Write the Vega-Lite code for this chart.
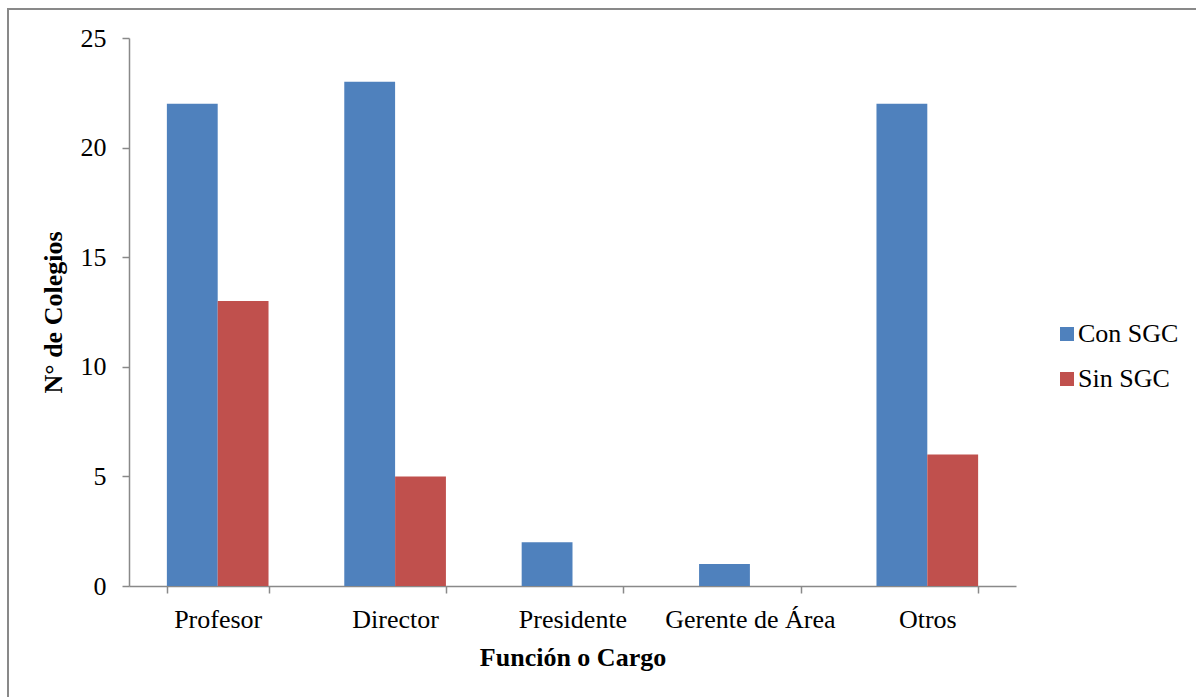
{
  "$schema": "https://vega.github.io/schema/vega-lite/v6.json",
  "width": 887,
  "height": 548,
  "autosize": {"type": "none"},
  "padding": {"left": 129, "top": 38, "right": 180, "bottom": 111},
  "background": "white",
  "config": {
    "view": {"stroke": null},
    "font": "Liberation Serif",
    "axis": {
      "domainColor": "#898989",
      "tickColor": "#898989",
      "domainWidth": 1.5,
      "tickWidth": 1.5,
      "tickSize": 7,
      "grid": false,
      "labelFont": "Liberation Serif",
      "labelFontSize": 26,
      "labelColor": "#000000",
      "titleFont": "Liberation Serif",
      "titleFontSize": 26,
      "titleFontWeight": "bold",
      "titleColor": "#000000"
    },
    "legend": {
      "labelFont": "Liberation Serif",
      "labelFontSize": 26,
      "labelColor": "#000000",
      "padding": 0
    }
  },
  "data": {
    "values": [
      {"cargo": "Profesor", "serie": "Con SGC", "n": 22},
      {"cargo": "Profesor", "serie": "Sin SGC", "n": 13},
      {"cargo": "Director", "serie": "Con SGC", "n": 23},
      {"cargo": "Director", "serie": "Sin SGC", "n": 5},
      {"cargo": "Presidente", "serie": "Con SGC", "n": 2},
      {"cargo": "Presidente", "serie": "Sin SGC", "n": 0},
      {"cargo": "Gerente de Área", "serie": "Con SGC", "n": 1},
      {"cargo": "Gerente de Área", "serie": "Sin SGC", "n": 0},
      {"cargo": "Otros", "serie": "Con SGC", "n": 22},
      {"cargo": "Otros", "serie": "Sin SGC", "n": 6}
    ]
  },
  "layer": [
    {
      "data": {"values": [{}]},
      "mark": {"type": "rect", "fillOpacity": 0, "stroke": "#898989", "strokeWidth": 2},
      "encoding": {
        "x": {"value": -121},
        "y": {"value": -29},
        "x2": {"value": 1200},
        "y2": {"value": 800}
      }
    },
    {
      "mark": {"type": "bar"},
      "encoding": {
        "x": {
          "field": "cargo",
          "type": "nominal",
          "sort": null,
          "scale": {"paddingInner": 0.427, "paddingOuter": 0.2135},
          "axis": {
            "title": "Función o Cargo",
            "labelAngle": 0,
            "tickBand": "extent",
            "labelPadding": 13,
            "titlePadding": 12
          }
        },
        "xOffset": {
          "field": "serie",
          "type": "nominal",
          "sort": ["Con SGC", "Sin SGC"],
          "scale": {"paddingInner": 0, "paddingOuter": 0}
        },
        "y": {
          "field": "n",
          "type": "quantitative",
          "scale": {"domain": [0, 25], "nice": false},
          "axis": {
            "title": "N° de Colegios",
            "values": [0, 5, 10, 15, 20, 25],
            "labelPadding": 16,
            "titlePadding": 14
          }
        },
        "color": {
          "field": "serie",
          "type": "nominal",
          "scale": {"domain": ["Con SGC", "Sin SGC"], "range": ["#4F81BD", "#C0504D"]},
          "legend": {
            "title": null,
            "orient": "none",
            "legendX": 925,
            "legendY": 283,
            "symbolType": "square",
            "symbolSize": 196,
            "symbolStrokeWidth": 0,
            "labelOffset": -2,
            "rowPadding": 19
          }
        }
      }
    }
  ]
}
